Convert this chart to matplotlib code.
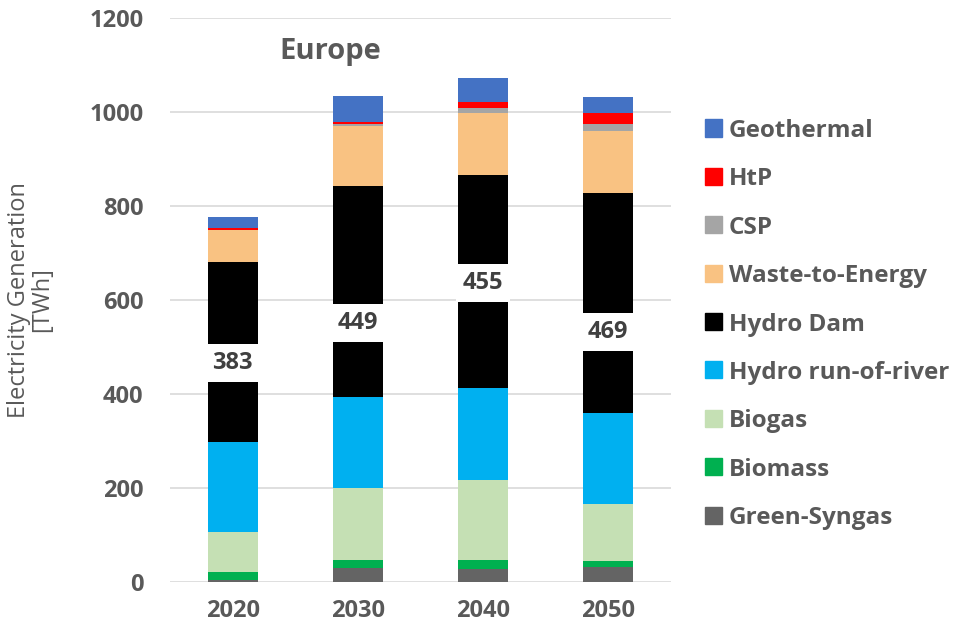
import numpy as np
import matplotlib
matplotlib.use('Agg')
from matplotlib import pyplot as plt
from matplotlib.patches import Rectangle

plt.rcParams['font.family'] = ['Open Sans', 'DejaVu Sans']

years = ['2020', '2030', '2040', '2050']
green_syngas = [4, 30, 28, 31]
biomass = [18, 17, 19, 14]
biogas = [84, 152, 169, 121]
hydro_ror = [191, 194, 196, 193]
hydro_dam = [383, 449, 455, 469]
waste = [70, 128, 130, 132]
csp = [0, 5, 12, 14]
htp = [3, 3, 12, 23]
geothermal = [23, 56, 52, 35]

series = [
    ('Green-Syngas', green_syngas, '#646464'),
    ('Biomass', biomass, '#00b050'),
    ('Biogas', biogas, '#c5e0b4'),
    ('Hydro run-of-river', hydro_ror, '#00b0f0'),
    ('Hydro Dam', hydro_dam, '#000000'),
    ('Waste-to-Energy', waste, '#f9c282'),
    ('CSP', csp, '#a5a5a5'),
    ('HtP', htp, '#ff0000'),
    ('Geothermal', geothermal, '#4472c4'),
]

# where the hydro dam labels sit (moved by hand in the original)
dam_label_y = [466, 551, 636, 532]

grey = '#595959'
W, H = 961, 636

fig = plt.figure(figsize=(W / 100, H / 100), dpi=100)
ax = fig.add_axes([170 / W, 54 / H, 501 / W, 564 / H])

x = np.arange(len(years))
bottom = np.zeros(len(years))
for name, vals, col in series:
    ax.bar(x, vals, 0.4, bottom=bottom, color=col, label=name, zorder=3)
    bottom = bottom + np.array(vals)

for i, v in enumerate(hydro_dam):
    ax.text(x[i], dam_label_y[i], str(v), ha='center', va='center',
            fontsize=17, fontweight='bold', color='#404040', zorder=4,
            bbox=dict(boxstyle='square,pad=0.3', fc='white', ec='none'))

ax.set_xlim(-0.5, 3.5)
ax.set_ylim(0, 1200)
ax.set_yticks(np.arange(0, 1201, 200))
ax.set_xticks(x)
ax.set_xticklabels(years)
ax.grid(axis='y', color='#d9d9d9', lw=1.2, zorder=0)
ax.tick_params(length=0, labelsize=17, labelcolor=grey)
ax.tick_params(axis='y', pad=19)
ax.tick_params(axis='x', pad=12)
for lab in ax.get_xticklabels() + ax.get_yticklabels():
    lab.set_fontweight('bold')
for s in ax.spines.values():
    s.set_visible(False)

fig.text(31 / W, 1 - 300 / H, 'Electricity Generation\n[TWh]', rotation=90,
         ha='center', va='center', multialignment='center', fontsize=17,
         color=grey, linespacing=0.95)
ax.text(0.78, 1128, 'Europe', ha='center', va='center', fontsize=21,
        fontweight='bold', color=grey)

# legend drawn by hand, top entry first
row0, step = 128, 48.4
for k, (name, vals, col) in enumerate(series[::-1]):
    yc = row0 + k * step
    fig.patches.append(Rectangle((705 / W, 1 - (yc + 8.5) / H), 17 / W, 17 / H,
                                 transform=fig.transFigure, color=col))
    fig.text(729 / W, 1 - yc / H, name, ha='left', va='center_baseline',
             fontsize=17.5, fontweight='bold', color=grey)

plt.savefig('out.png', dpi=100)
